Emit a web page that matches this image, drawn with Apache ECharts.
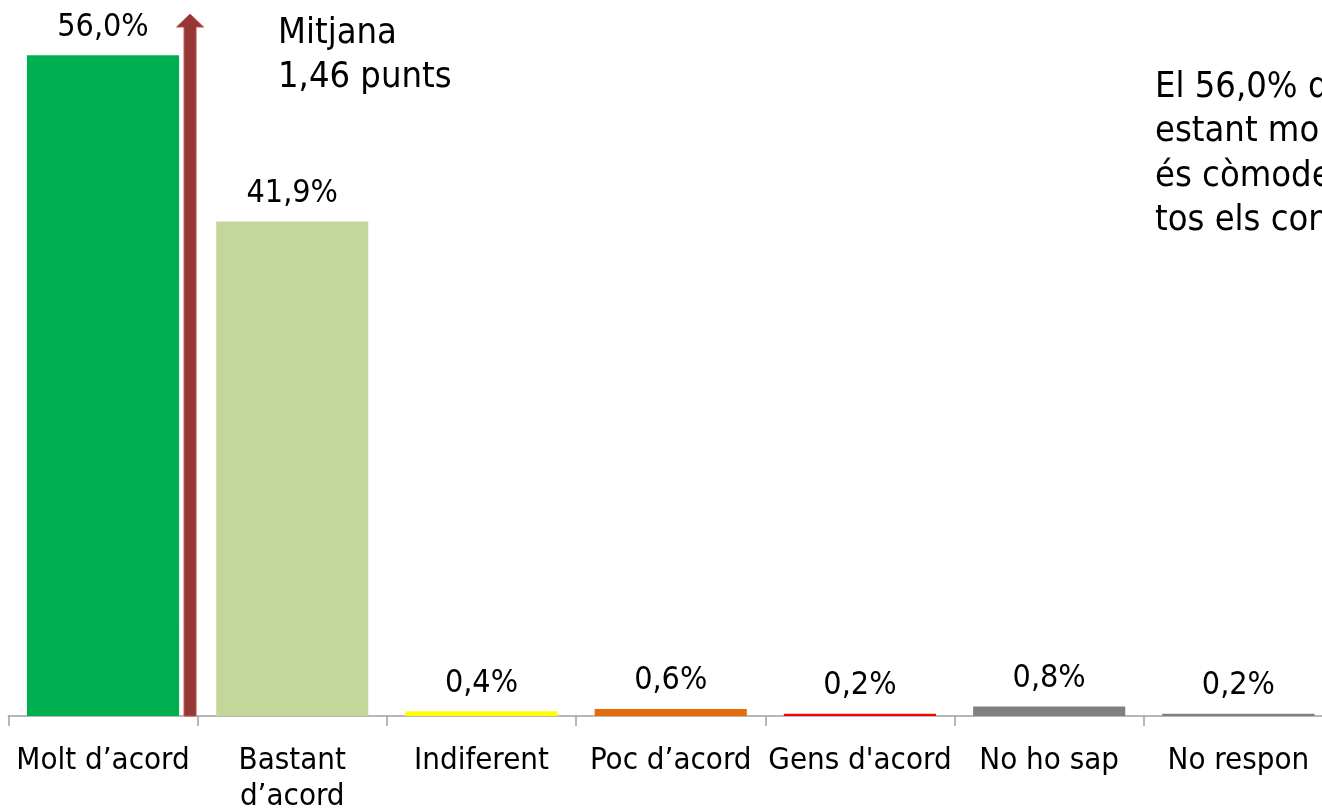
<!DOCTYPE html>
<html>
<head>
<meta charset="utf-8">
<script src="https://cdn.jsdelivr.net/npm/echarts@6/dist/echarts.min.js"></script>
<style>
  html, body { margin: 0; padding: 0; background: #ffffff; }
  #chart { width: 1322px; height: 810px; }
</style>
</head>
<body>
<div id="chart"></div>
<script>
// Answer categories and their share of responses (%)
const categories = ['Molt d’acord', 'Bastant\nd’acord', 'Indiferent', 'Poc d’acord', 'Gens d\'acord', 'No ho sap', 'No respon'];
const shares = [56.0, 41.9, 0.4, 0.6, 0.2, 0.8, 0.2];
// Mean score (1 = Molt d'acord ... 5 = Gens d'acord)
const meanScore = 1.46;
const barColors = ['#00B050', '#C4D79B', '#FFFF00', '#E46C0A', '#FF0000', '#808080', '#808080'];

const FONT = '"DejaVu Sans Condensed", "DejaVu Sans", sans-serif';
const fmt = (v, d) => v.toFixed(d).replace('.', ',');

const chart = echarts.init(document.getElementById('chart'), null, { renderer: 'canvas' });

chart.setOption({
  backgroundColor: '#ffffff',
  animation: false,
  grid: { left: 8.4, right: -11, top: 8, bottom: 94, containLabel: false, outerBoundsMode: 'none' },
  xAxis: [
    {
      type: 'category',
      data: categories,
      axisLine: { lineStyle: { color: '#A0A0A0', width: 1.5 } },
      axisTick: { show: true, length: 10, lineStyle: { color: '#A0A0A0', width: 1.5 } },
      axisLabel: {
        interval: 0,
        margin: 27,
        color: '#000000',
        fontFamily: FONT,
        fontSize: 31,
        lineHeight: 36
      }
    },
    {
      // numeric scale with category i centred on value i, used for the mean arrow
      type: 'value',
      min: 0.5,
      max: 7.5,
      show: false
    }
  ],
  yAxis: { type: 'value', min: 0, max: 60, show: false },
  series: [
    {
      type: 'bar',
      xAxisIndex: 0,
      barCategoryGap: '19.6%',
      data: shares.map((v, i) => ({ value: v, itemStyle: { color: barColors[i] } })),
      label: {
        show: true,
        position: 'top',
        distance: 12,
        color: '#000000',
        fontFamily: FONT,
        fontSize: 32,
        formatter: p => fmt(p.value, 1) + '%'
      }
    },
    {
      type: 'custom',
      xAxisIndex: 1,
      yAxisIndex: 0,
      data: [[meanScore, 0]],
      renderItem: (params, api) => {
        const base = api.coord([api.value(0), 0]);
        const x = base[0];
        const bottom = base[1];
        const top = params.coordSys.y + 6;
        const shaft = 6, head = 13.5, headH = 13;
        return {
          type: 'polygon',
          shape: {
            points: [
              [x - shaft, bottom], [x - shaft, top + headH], [x - head, top + headH],
              [x, top], [x + head, top + headH], [x + shaft, top + headH], [x + shaft, bottom]
            ]
          },
          style: { fill: '#953735', stroke: '#C0504D', lineWidth: 1 }
        };
      }
    }
  ],
  graphic: [
    {
      type: 'text',
      left: 278,
      top: 12,
      style: {
        text: 'Mitjana\n' + fmt(meanScore, 2) + ' punts',
        fill: '#000000',
        font: '36px ' + FONT,
        lineHeight: 44
      }
    },
    {
      type: 'text',
      left: 1155,
      top: 65,
      style: {
        text: 'El ' + fmt(shares[0], 1) + '% dels enquestats es declara\nestant molt d’acord en que\nés còmode fer servir\ntos els contenidors',
        fill: '#000000',
        font: '36px ' + FONT,
        lineHeight: 44.5
      }
    }
  ]
});
</script>
</body>
</html>
